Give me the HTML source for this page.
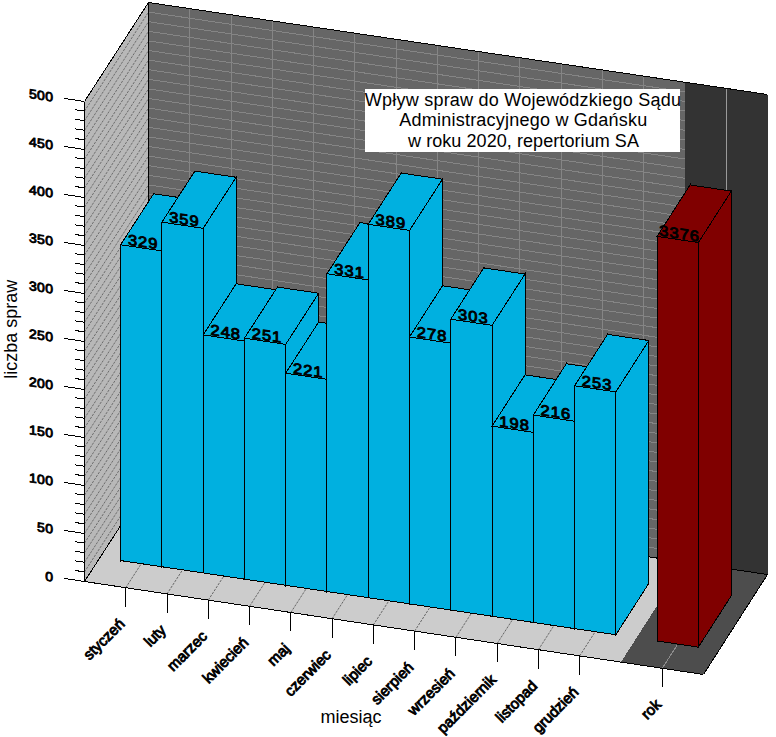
<!DOCTYPE html>
<html><head><meta charset="utf-8"><title>chart</title>
<style>html,body{margin:0;padding:0;background:#fff}body{width:776px;height:737px;position:relative;overflow:hidden;font-family:"Liberation Sans",sans-serif}svg{display:block}</style>
</head><body>
<svg width="776" height="737" viewBox="0 0 776 737" shape-rendering="crispEdges">
<rect width="100%" height="100%" fill="#fff"/>
<polygon points="84.50,581.50 84.50,101.50 148.50,2.50 148.50,482.50" fill="#b8b8b8" stroke="none" stroke-width="1" />
<polygon points="148.50,482.50 148.50,2.50 684.97,82.23 684.97,562.23" fill="#666666" stroke="none" stroke-width="1" />
<polygon points="684.97,562.23 684.97,82.23 767.50,94.50 767.50,574.50" fill="#333333" stroke="none" stroke-width="1" />
<polygon points="84.50,581.50 148.50,482.50 684.97,562.23 620.97,662.10" fill="#cccccc" stroke="none" stroke-width="1" />
<polygon points="620.97,662.10 684.97,562.23 767.50,574.50 703.50,674.50" fill="#4d4d4d" stroke="none" stroke-width="1" />
<line x1="84.50" y1="571.90" x2="148.50" y2="472.90" stroke="#6c6c6c" stroke-width="1" stroke-dasharray="2.3814 1.1907" shape-rendering="geometricPrecision"/>
<line x1="148.50" y1="472.90" x2="684.97" y2="552.63" stroke="#858585" stroke-width="1" />
<line x1="84.50" y1="562.30" x2="148.50" y2="463.30" stroke="#6c6c6c" stroke-width="1" stroke-dasharray="2.3814 1.1907" shape-rendering="geometricPrecision"/>
<line x1="148.50" y1="463.30" x2="684.97" y2="543.03" stroke="#858585" stroke-width="1" />
<line x1="84.50" y1="552.70" x2="148.50" y2="453.70" stroke="#6c6c6c" stroke-width="1" stroke-dasharray="2.3814 1.1907" shape-rendering="geometricPrecision"/>
<line x1="148.50" y1="453.70" x2="684.97" y2="533.43" stroke="#858585" stroke-width="1" />
<line x1="84.50" y1="543.10" x2="148.50" y2="444.10" stroke="#6c6c6c" stroke-width="1" stroke-dasharray="2.3814 1.1907" shape-rendering="geometricPrecision"/>
<line x1="148.50" y1="444.10" x2="684.97" y2="523.83" stroke="#858585" stroke-width="1" />
<line x1="84.50" y1="533.50" x2="148.50" y2="434.50" stroke="#6c6c6c" stroke-width="1" stroke-dasharray="2.3814 1.1907" shape-rendering="geometricPrecision"/>
<line x1="148.50" y1="434.50" x2="684.97" y2="514.23" stroke="#858585" stroke-width="1" />
<line x1="84.50" y1="523.90" x2="148.50" y2="424.90" stroke="#6c6c6c" stroke-width="1" stroke-dasharray="2.3814 1.1907" shape-rendering="geometricPrecision"/>
<line x1="148.50" y1="424.90" x2="684.97" y2="504.63" stroke="#858585" stroke-width="1" />
<line x1="84.50" y1="514.30" x2="148.50" y2="415.30" stroke="#6c6c6c" stroke-width="1" stroke-dasharray="2.3814 1.1907" shape-rendering="geometricPrecision"/>
<line x1="148.50" y1="415.30" x2="684.97" y2="495.03" stroke="#858585" stroke-width="1" />
<line x1="84.50" y1="504.70" x2="148.50" y2="405.70" stroke="#6c6c6c" stroke-width="1" stroke-dasharray="2.3814 1.1907" shape-rendering="geometricPrecision"/>
<line x1="148.50" y1="405.70" x2="684.97" y2="485.43" stroke="#858585" stroke-width="1" />
<line x1="84.50" y1="495.10" x2="148.50" y2="396.10" stroke="#6c6c6c" stroke-width="1" stroke-dasharray="2.3814 1.1907" shape-rendering="geometricPrecision"/>
<line x1="148.50" y1="396.10" x2="684.97" y2="475.83" stroke="#858585" stroke-width="1" />
<line x1="84.50" y1="485.50" x2="148.50" y2="386.50" stroke="#6c6c6c" stroke-width="1" stroke-dasharray="2.3814 1.1907" shape-rendering="geometricPrecision"/>
<line x1="148.50" y1="386.50" x2="684.97" y2="466.23" stroke="#858585" stroke-width="1" />
<line x1="84.50" y1="475.90" x2="148.50" y2="376.90" stroke="#6c6c6c" stroke-width="1" stroke-dasharray="2.3814 1.1907" shape-rendering="geometricPrecision"/>
<line x1="148.50" y1="376.90" x2="684.97" y2="456.63" stroke="#858585" stroke-width="1" />
<line x1="84.50" y1="466.30" x2="148.50" y2="367.30" stroke="#6c6c6c" stroke-width="1" stroke-dasharray="2.3814 1.1907" shape-rendering="geometricPrecision"/>
<line x1="148.50" y1="367.30" x2="684.97" y2="447.03" stroke="#858585" stroke-width="1" />
<line x1="84.50" y1="456.70" x2="148.50" y2="357.70" stroke="#6c6c6c" stroke-width="1" stroke-dasharray="2.3814 1.1907" shape-rendering="geometricPrecision"/>
<line x1="148.50" y1="357.70" x2="684.97" y2="437.43" stroke="#858585" stroke-width="1" />
<line x1="84.50" y1="447.10" x2="148.50" y2="348.10" stroke="#6c6c6c" stroke-width="1" stroke-dasharray="2.3814 1.1907" shape-rendering="geometricPrecision"/>
<line x1="148.50" y1="348.10" x2="684.97" y2="427.83" stroke="#858585" stroke-width="1" />
<line x1="84.50" y1="437.50" x2="148.50" y2="338.50" stroke="#6c6c6c" stroke-width="1" stroke-dasharray="2.3814 1.1907" shape-rendering="geometricPrecision"/>
<line x1="148.50" y1="338.50" x2="684.97" y2="418.23" stroke="#858585" stroke-width="1" />
<line x1="84.50" y1="427.90" x2="148.50" y2="328.90" stroke="#6c6c6c" stroke-width="1" stroke-dasharray="2.3814 1.1907" shape-rendering="geometricPrecision"/>
<line x1="148.50" y1="328.90" x2="684.97" y2="408.63" stroke="#858585" stroke-width="1" />
<line x1="84.50" y1="418.30" x2="148.50" y2="319.30" stroke="#6c6c6c" stroke-width="1" stroke-dasharray="2.3814 1.1907" shape-rendering="geometricPrecision"/>
<line x1="148.50" y1="319.30" x2="684.97" y2="399.03" stroke="#858585" stroke-width="1" />
<line x1="84.50" y1="408.70" x2="148.50" y2="309.70" stroke="#6c6c6c" stroke-width="1" stroke-dasharray="2.3814 1.1907" shape-rendering="geometricPrecision"/>
<line x1="148.50" y1="309.70" x2="684.97" y2="389.43" stroke="#858585" stroke-width="1" />
<line x1="84.50" y1="399.10" x2="148.50" y2="300.10" stroke="#6c6c6c" stroke-width="1" stroke-dasharray="2.3814 1.1907" shape-rendering="geometricPrecision"/>
<line x1="148.50" y1="300.10" x2="684.97" y2="379.83" stroke="#858585" stroke-width="1" />
<line x1="84.50" y1="389.50" x2="148.50" y2="290.50" stroke="#6c6c6c" stroke-width="1" stroke-dasharray="2.3814 1.1907" shape-rendering="geometricPrecision"/>
<line x1="148.50" y1="290.50" x2="684.97" y2="370.23" stroke="#858585" stroke-width="1" />
<line x1="84.50" y1="379.90" x2="148.50" y2="280.90" stroke="#6c6c6c" stroke-width="1" stroke-dasharray="2.3814 1.1907" shape-rendering="geometricPrecision"/>
<line x1="148.50" y1="280.90" x2="684.97" y2="360.63" stroke="#858585" stroke-width="1" />
<line x1="84.50" y1="370.30" x2="148.50" y2="271.30" stroke="#6c6c6c" stroke-width="1" stroke-dasharray="2.3814 1.1907" shape-rendering="geometricPrecision"/>
<line x1="148.50" y1="271.30" x2="684.97" y2="351.03" stroke="#858585" stroke-width="1" />
<line x1="84.50" y1="360.70" x2="148.50" y2="261.70" stroke="#6c6c6c" stroke-width="1" stroke-dasharray="2.3814 1.1907" shape-rendering="geometricPrecision"/>
<line x1="148.50" y1="261.70" x2="684.97" y2="341.43" stroke="#858585" stroke-width="1" />
<line x1="84.50" y1="351.10" x2="148.50" y2="252.10" stroke="#6c6c6c" stroke-width="1" stroke-dasharray="2.3814 1.1907" shape-rendering="geometricPrecision"/>
<line x1="148.50" y1="252.10" x2="684.97" y2="331.83" stroke="#858585" stroke-width="1" />
<line x1="84.50" y1="341.50" x2="148.50" y2="242.50" stroke="#6c6c6c" stroke-width="1" stroke-dasharray="2.3814 1.1907" shape-rendering="geometricPrecision"/>
<line x1="148.50" y1="242.50" x2="684.97" y2="322.23" stroke="#858585" stroke-width="1" />
<line x1="84.50" y1="331.90" x2="148.50" y2="232.90" stroke="#6c6c6c" stroke-width="1" stroke-dasharray="2.3814 1.1907" shape-rendering="geometricPrecision"/>
<line x1="148.50" y1="232.90" x2="684.97" y2="312.63" stroke="#858585" stroke-width="1" />
<line x1="84.50" y1="322.30" x2="148.50" y2="223.30" stroke="#6c6c6c" stroke-width="1" stroke-dasharray="2.3814 1.1907" shape-rendering="geometricPrecision"/>
<line x1="148.50" y1="223.30" x2="684.97" y2="303.03" stroke="#858585" stroke-width="1" />
<line x1="84.50" y1="312.70" x2="148.50" y2="213.70" stroke="#6c6c6c" stroke-width="1" stroke-dasharray="2.3814 1.1907" shape-rendering="geometricPrecision"/>
<line x1="148.50" y1="213.70" x2="684.97" y2="293.43" stroke="#858585" stroke-width="1" />
<line x1="84.50" y1="303.10" x2="148.50" y2="204.10" stroke="#6c6c6c" stroke-width="1" stroke-dasharray="2.3814 1.1907" shape-rendering="geometricPrecision"/>
<line x1="148.50" y1="204.10" x2="684.97" y2="283.83" stroke="#858585" stroke-width="1" />
<line x1="84.50" y1="293.50" x2="148.50" y2="194.50" stroke="#6c6c6c" stroke-width="1" stroke-dasharray="2.3814 1.1907" shape-rendering="geometricPrecision"/>
<line x1="148.50" y1="194.50" x2="684.97" y2="274.23" stroke="#858585" stroke-width="1" />
<line x1="84.50" y1="283.90" x2="148.50" y2="184.90" stroke="#6c6c6c" stroke-width="1" stroke-dasharray="2.3814 1.1907" shape-rendering="geometricPrecision"/>
<line x1="148.50" y1="184.90" x2="684.97" y2="264.63" stroke="#858585" stroke-width="1" />
<line x1="84.50" y1="274.30" x2="148.50" y2="175.30" stroke="#6c6c6c" stroke-width="1" stroke-dasharray="2.3814 1.1907" shape-rendering="geometricPrecision"/>
<line x1="148.50" y1="175.30" x2="684.97" y2="255.03" stroke="#858585" stroke-width="1" />
<line x1="84.50" y1="264.70" x2="148.50" y2="165.70" stroke="#6c6c6c" stroke-width="1" stroke-dasharray="2.3814 1.1907" shape-rendering="geometricPrecision"/>
<line x1="148.50" y1="165.70" x2="684.97" y2="245.43" stroke="#858585" stroke-width="1" />
<line x1="84.50" y1="255.10" x2="148.50" y2="156.10" stroke="#6c6c6c" stroke-width="1" stroke-dasharray="2.3814 1.1907" shape-rendering="geometricPrecision"/>
<line x1="148.50" y1="156.10" x2="684.97" y2="235.83" stroke="#858585" stroke-width="1" />
<line x1="84.50" y1="245.50" x2="148.50" y2="146.50" stroke="#6c6c6c" stroke-width="1" stroke-dasharray="2.3814 1.1907" shape-rendering="geometricPrecision"/>
<line x1="148.50" y1="146.50" x2="684.97" y2="226.23" stroke="#858585" stroke-width="1" />
<line x1="84.50" y1="235.90" x2="148.50" y2="136.90" stroke="#6c6c6c" stroke-width="1" stroke-dasharray="2.3814 1.1907" shape-rendering="geometricPrecision"/>
<line x1="148.50" y1="136.90" x2="684.97" y2="216.63" stroke="#858585" stroke-width="1" />
<line x1="84.50" y1="226.30" x2="148.50" y2="127.30" stroke="#6c6c6c" stroke-width="1" stroke-dasharray="2.3814 1.1907" shape-rendering="geometricPrecision"/>
<line x1="148.50" y1="127.30" x2="684.97" y2="207.03" stroke="#858585" stroke-width="1" />
<line x1="84.50" y1="216.70" x2="148.50" y2="117.70" stroke="#6c6c6c" stroke-width="1" stroke-dasharray="2.3814 1.1907" shape-rendering="geometricPrecision"/>
<line x1="148.50" y1="117.70" x2="684.97" y2="197.43" stroke="#858585" stroke-width="1" />
<line x1="84.50" y1="207.10" x2="148.50" y2="108.10" stroke="#6c6c6c" stroke-width="1" stroke-dasharray="2.3814 1.1907" shape-rendering="geometricPrecision"/>
<line x1="148.50" y1="108.10" x2="684.97" y2="187.83" stroke="#858585" stroke-width="1" />
<line x1="84.50" y1="197.50" x2="148.50" y2="98.50" stroke="#6c6c6c" stroke-width="1" stroke-dasharray="2.3814 1.1907" shape-rendering="geometricPrecision"/>
<line x1="148.50" y1="98.50" x2="684.97" y2="178.23" stroke="#858585" stroke-width="1" />
<line x1="84.50" y1="187.90" x2="148.50" y2="88.90" stroke="#6c6c6c" stroke-width="1" stroke-dasharray="2.3814 1.1907" shape-rendering="geometricPrecision"/>
<line x1="148.50" y1="88.90" x2="684.97" y2="168.63" stroke="#858585" stroke-width="1" />
<line x1="84.50" y1="178.30" x2="148.50" y2="79.30" stroke="#6c6c6c" stroke-width="1" stroke-dasharray="2.3814 1.1907" shape-rendering="geometricPrecision"/>
<line x1="148.50" y1="79.30" x2="684.97" y2="159.03" stroke="#858585" stroke-width="1" />
<line x1="84.50" y1="168.70" x2="148.50" y2="69.70" stroke="#6c6c6c" stroke-width="1" stroke-dasharray="2.3814 1.1907" shape-rendering="geometricPrecision"/>
<line x1="148.50" y1="69.70" x2="684.97" y2="149.43" stroke="#858585" stroke-width="1" />
<line x1="84.50" y1="159.10" x2="148.50" y2="60.10" stroke="#6c6c6c" stroke-width="1" stroke-dasharray="2.3814 1.1907" shape-rendering="geometricPrecision"/>
<line x1="148.50" y1="60.10" x2="684.97" y2="139.83" stroke="#858585" stroke-width="1" />
<line x1="84.50" y1="149.50" x2="148.50" y2="50.50" stroke="#6c6c6c" stroke-width="1" stroke-dasharray="2.3814 1.1907" shape-rendering="geometricPrecision"/>
<line x1="148.50" y1="50.50" x2="684.97" y2="130.23" stroke="#858585" stroke-width="1" />
<line x1="84.50" y1="139.90" x2="148.50" y2="40.90" stroke="#6c6c6c" stroke-width="1" stroke-dasharray="2.3814 1.1907" shape-rendering="geometricPrecision"/>
<line x1="148.50" y1="40.90" x2="684.97" y2="120.63" stroke="#858585" stroke-width="1" />
<line x1="84.50" y1="130.30" x2="148.50" y2="31.30" stroke="#6c6c6c" stroke-width="1" stroke-dasharray="2.3814 1.1907" shape-rendering="geometricPrecision"/>
<line x1="148.50" y1="31.30" x2="684.97" y2="111.03" stroke="#858585" stroke-width="1" />
<line x1="84.50" y1="120.70" x2="148.50" y2="21.70" stroke="#6c6c6c" stroke-width="1" stroke-dasharray="2.3814 1.1907" shape-rendering="geometricPrecision"/>
<line x1="148.50" y1="21.70" x2="684.97" y2="101.43" stroke="#858585" stroke-width="1" />
<line x1="84.50" y1="111.10" x2="148.50" y2="12.10" stroke="#6c6c6c" stroke-width="1" stroke-dasharray="2.3814 1.1907" shape-rendering="geometricPrecision"/>
<line x1="148.50" y1="12.10" x2="684.97" y2="91.83" stroke="#858585" stroke-width="1" />
<line x1="189.77" y1="488.63" x2="189.77" y2="8.63" stroke="#858585" stroke-width="1" />
<line x1="125.77" y1="587.70" x2="189.77" y2="488.63" stroke="#666" stroke-width="1" stroke-dasharray="2.3814 1.1907" shape-rendering="geometricPrecision"/>
<line x1="231.03" y1="494.77" x2="231.03" y2="14.77" stroke="#858585" stroke-width="1" />
<line x1="167.03" y1="593.90" x2="231.03" y2="494.77" stroke="#666" stroke-width="1" stroke-dasharray="2.3814 1.1907" shape-rendering="geometricPrecision"/>
<line x1="272.30" y1="500.90" x2="272.30" y2="20.90" stroke="#858585" stroke-width="1" />
<line x1="208.30" y1="600.10" x2="272.30" y2="500.90" stroke="#666" stroke-width="1" stroke-dasharray="2.3814 1.1907" shape-rendering="geometricPrecision"/>
<line x1="313.57" y1="507.03" x2="313.57" y2="27.03" stroke="#858585" stroke-width="1" />
<line x1="249.57" y1="606.30" x2="313.57" y2="507.03" stroke="#666" stroke-width="1" stroke-dasharray="2.3814 1.1907" shape-rendering="geometricPrecision"/>
<line x1="354.84" y1="513.17" x2="354.84" y2="33.17" stroke="#858585" stroke-width="1" />
<line x1="290.84" y1="612.50" x2="354.84" y2="513.17" stroke="#666" stroke-width="1" stroke-dasharray="2.3814 1.1907" shape-rendering="geometricPrecision"/>
<line x1="396.10" y1="519.30" x2="396.10" y2="39.30" stroke="#858585" stroke-width="1" />
<line x1="332.10" y1="618.70" x2="396.10" y2="519.30" stroke="#666" stroke-width="1" stroke-dasharray="2.3814 1.1907" shape-rendering="geometricPrecision"/>
<line x1="437.37" y1="525.43" x2="437.37" y2="45.43" stroke="#858585" stroke-width="1" />
<line x1="373.37" y1="624.90" x2="437.37" y2="525.43" stroke="#666" stroke-width="1" stroke-dasharray="2.3814 1.1907" shape-rendering="geometricPrecision"/>
<line x1="478.64" y1="531.57" x2="478.64" y2="51.57" stroke="#858585" stroke-width="1" />
<line x1="414.64" y1="631.10" x2="478.64" y2="531.57" stroke="#666" stroke-width="1" stroke-dasharray="2.3814 1.1907" shape-rendering="geometricPrecision"/>
<line x1="519.90" y1="537.70" x2="519.90" y2="57.70" stroke="#858585" stroke-width="1" />
<line x1="455.90" y1="637.30" x2="519.90" y2="537.70" stroke="#666" stroke-width="1" stroke-dasharray="2.3814 1.1907" shape-rendering="geometricPrecision"/>
<line x1="561.17" y1="543.83" x2="561.17" y2="63.83" stroke="#858585" stroke-width="1" />
<line x1="497.17" y1="643.50" x2="561.17" y2="543.83" stroke="#666" stroke-width="1" stroke-dasharray="2.3814 1.1907" shape-rendering="geometricPrecision"/>
<line x1="602.44" y1="549.97" x2="602.44" y2="69.97" stroke="#858585" stroke-width="1" />
<line x1="538.44" y1="649.70" x2="602.44" y2="549.97" stroke="#666" stroke-width="1" stroke-dasharray="2.3814 1.1907" shape-rendering="geometricPrecision"/>
<line x1="643.70" y1="556.10" x2="643.70" y2="76.10" stroke="#858585" stroke-width="1" />
<line x1="579.70" y1="655.90" x2="643.70" y2="556.10" stroke="#666" stroke-width="1" stroke-dasharray="2.3814 1.1907" shape-rendering="geometricPrecision"/>
<line x1="726.24" y1="568.37" x2="726.24" y2="88.37" stroke="#9a9a9a" stroke-width="1" />
<line x1="662.24" y1="668.30" x2="726.24" y2="568.37" stroke="#8c8c8c" stroke-width="1" />
<line x1="84.50" y1="581.50" x2="84.50" y2="101.50" stroke="#000" stroke-width="1" />
<line x1="84.50" y1="101.50" x2="148.50" y2="2.50" stroke="#000" stroke-width="1" />
<line x1="148.50" y1="482.50" x2="148.50" y2="2.50" stroke="#000" stroke-width="1" />
<line x1="148.50" y1="2.50" x2="767.50" y2="94.50" stroke="#000" stroke-width="1" />
<line x1="84.50" y1="581.50" x2="148.50" y2="482.50" stroke="#000" stroke-width="1" />
<line x1="84.50" y1="581.50" x2="703.50" y2="674.50" stroke="#000" stroke-width="1" />
<line x1="703.50" y1="674.50" x2="767.50" y2="574.50" stroke="#000" stroke-width="1" />
<line x1="148.50" y1="482.50" x2="767.50" y2="574.50" stroke="#000" stroke-width="1" />
<line x1="84.50" y1="581.50" x2="64.28" y2="578.46" stroke="#000" stroke-width="1" />
<line x1="84.50" y1="571.90" x2="74.93" y2="570.46" stroke="#000" stroke-width="1" />
<line x1="84.50" y1="562.30" x2="74.93" y2="560.86" stroke="#000" stroke-width="1" />
<line x1="84.50" y1="552.70" x2="74.93" y2="551.26" stroke="#000" stroke-width="1" />
<line x1="84.50" y1="543.10" x2="74.93" y2="541.66" stroke="#000" stroke-width="1" />
<line x1="84.50" y1="533.50" x2="64.28" y2="530.46" stroke="#000" stroke-width="1" />
<line x1="84.50" y1="523.90" x2="74.93" y2="522.46" stroke="#000" stroke-width="1" />
<line x1="84.50" y1="514.30" x2="74.93" y2="512.86" stroke="#000" stroke-width="1" />
<line x1="84.50" y1="504.70" x2="74.93" y2="503.26" stroke="#000" stroke-width="1" />
<line x1="84.50" y1="495.10" x2="74.93" y2="493.66" stroke="#000" stroke-width="1" />
<line x1="84.50" y1="485.50" x2="64.28" y2="482.46" stroke="#000" stroke-width="1" />
<line x1="84.50" y1="475.90" x2="74.93" y2="474.46" stroke="#000" stroke-width="1" />
<line x1="84.50" y1="466.30" x2="74.93" y2="464.86" stroke="#000" stroke-width="1" />
<line x1="84.50" y1="456.70" x2="74.93" y2="455.26" stroke="#000" stroke-width="1" />
<line x1="84.50" y1="447.10" x2="74.93" y2="445.66" stroke="#000" stroke-width="1" />
<line x1="84.50" y1="437.50" x2="64.28" y2="434.46" stroke="#000" stroke-width="1" />
<line x1="84.50" y1="427.90" x2="74.93" y2="426.46" stroke="#000" stroke-width="1" />
<line x1="84.50" y1="418.30" x2="74.93" y2="416.86" stroke="#000" stroke-width="1" />
<line x1="84.50" y1="408.70" x2="74.93" y2="407.26" stroke="#000" stroke-width="1" />
<line x1="84.50" y1="399.10" x2="74.93" y2="397.66" stroke="#000" stroke-width="1" />
<line x1="84.50" y1="389.50" x2="64.28" y2="386.46" stroke="#000" stroke-width="1" />
<line x1="84.50" y1="379.90" x2="74.93" y2="378.46" stroke="#000" stroke-width="1" />
<line x1="84.50" y1="370.30" x2="74.93" y2="368.86" stroke="#000" stroke-width="1" />
<line x1="84.50" y1="360.70" x2="74.93" y2="359.26" stroke="#000" stroke-width="1" />
<line x1="84.50" y1="351.10" x2="74.93" y2="349.66" stroke="#000" stroke-width="1" />
<line x1="84.50" y1="341.50" x2="64.28" y2="338.46" stroke="#000" stroke-width="1" />
<line x1="84.50" y1="331.90" x2="74.93" y2="330.46" stroke="#000" stroke-width="1" />
<line x1="84.50" y1="322.30" x2="74.93" y2="320.86" stroke="#000" stroke-width="1" />
<line x1="84.50" y1="312.70" x2="74.93" y2="311.26" stroke="#000" stroke-width="1" />
<line x1="84.50" y1="303.10" x2="74.93" y2="301.66" stroke="#000" stroke-width="1" />
<line x1="84.50" y1="293.50" x2="64.28" y2="290.46" stroke="#000" stroke-width="1" />
<line x1="84.50" y1="283.90" x2="74.93" y2="282.46" stroke="#000" stroke-width="1" />
<line x1="84.50" y1="274.30" x2="74.93" y2="272.86" stroke="#000" stroke-width="1" />
<line x1="84.50" y1="264.70" x2="74.93" y2="263.26" stroke="#000" stroke-width="1" />
<line x1="84.50" y1="255.10" x2="74.93" y2="253.66" stroke="#000" stroke-width="1" />
<line x1="84.50" y1="245.50" x2="64.28" y2="242.46" stroke="#000" stroke-width="1" />
<line x1="84.50" y1="235.90" x2="74.93" y2="234.46" stroke="#000" stroke-width="1" />
<line x1="84.50" y1="226.30" x2="74.93" y2="224.86" stroke="#000" stroke-width="1" />
<line x1="84.50" y1="216.70" x2="74.93" y2="215.26" stroke="#000" stroke-width="1" />
<line x1="84.50" y1="207.10" x2="74.93" y2="205.66" stroke="#000" stroke-width="1" />
<line x1="84.50" y1="197.50" x2="64.28" y2="194.46" stroke="#000" stroke-width="1" />
<line x1="84.50" y1="187.90" x2="74.93" y2="186.46" stroke="#000" stroke-width="1" />
<line x1="84.50" y1="178.30" x2="74.93" y2="176.86" stroke="#000" stroke-width="1" />
<line x1="84.50" y1="168.70" x2="74.93" y2="167.26" stroke="#000" stroke-width="1" />
<line x1="84.50" y1="159.10" x2="74.93" y2="157.66" stroke="#000" stroke-width="1" />
<line x1="84.50" y1="149.50" x2="64.28" y2="146.46" stroke="#000" stroke-width="1" />
<line x1="84.50" y1="139.90" x2="74.93" y2="138.46" stroke="#000" stroke-width="1" />
<line x1="84.50" y1="130.30" x2="74.93" y2="128.86" stroke="#000" stroke-width="1" />
<line x1="84.50" y1="120.70" x2="74.93" y2="119.26" stroke="#000" stroke-width="1" />
<line x1="84.50" y1="111.10" x2="74.93" y2="109.66" stroke="#000" stroke-width="1" />
<line x1="84.50" y1="101.50" x2="64.28" y2="98.46" stroke="#000" stroke-width="1" />
<line x1="125.77" y1="587.70" x2="125.77" y2="606.60" stroke="#000" stroke-width="1" />
<line x1="167.03" y1="593.90" x2="167.03" y2="612.80" stroke="#000" stroke-width="1" />
<line x1="208.30" y1="600.10" x2="208.30" y2="619.00" stroke="#000" stroke-width="1" />
<line x1="249.57" y1="606.30" x2="249.57" y2="625.20" stroke="#000" stroke-width="1" />
<line x1="290.84" y1="612.50" x2="290.84" y2="631.40" stroke="#000" stroke-width="1" />
<line x1="332.10" y1="618.70" x2="332.10" y2="637.60" stroke="#000" stroke-width="1" />
<line x1="373.37" y1="624.90" x2="373.37" y2="643.80" stroke="#000" stroke-width="1" />
<line x1="414.64" y1="631.10" x2="414.64" y2="650.00" stroke="#000" stroke-width="1" />
<line x1="455.90" y1="637.30" x2="455.90" y2="656.20" stroke="#000" stroke-width="1" />
<line x1="497.17" y1="643.50" x2="497.17" y2="662.40" stroke="#000" stroke-width="1" />
<line x1="538.44" y1="649.70" x2="538.44" y2="668.60" stroke="#000" stroke-width="1" />
<line x1="579.70" y1="655.90" x2="579.70" y2="674.80" stroke="#000" stroke-width="1" />
<line x1="662.24" y1="668.30" x2="662.24" y2="687.20" stroke="#000" stroke-width="1" />
<polygon points="120.65,560.58 120.65,244.74 153.61,193.74 153.61,509.58" fill="#00b0e0" stroke="#000" stroke-width="1" /><polygon points="161.92,566.77 161.92,250.93 194.88,199.89 194.88,515.73" fill="#00b0e0" stroke="#000" stroke-width="1" /><polygon points="120.65,244.74 161.92,250.93 194.88,199.89 153.61,193.74" fill="#00b0e0" stroke="#000" stroke-width="1" /><polygon points="120.65,560.58 120.65,244.74 161.92,250.93 161.92,566.77" fill="#00b0e0" stroke="#000" stroke-width="1" />
<polygon points="161.92,566.77 161.92,222.13 194.88,171.09 194.88,515.73" fill="#00b0e0" stroke="#000" stroke-width="1" /><polygon points="203.19,572.95 203.19,228.31 236.15,177.24 236.15,521.88" fill="#00b0e0" stroke="#000" stroke-width="1" /><polygon points="161.92,222.13 203.19,228.31 236.15,177.24 194.88,171.09" fill="#00b0e0" stroke="#000" stroke-width="1" /><polygon points="161.92,566.77 161.92,222.13 203.19,228.31 203.19,572.95" fill="#00b0e0" stroke="#000" stroke-width="1" />
<polygon points="203.19,572.95 203.19,334.87 236.15,283.80 236.15,521.88" fill="#00b0e0" stroke="#000" stroke-width="1" /><polygon points="244.45,579.14 244.45,341.06 277.41,289.95 277.41,528.03" fill="#00b0e0" stroke="#000" stroke-width="1" /><polygon points="203.19,334.87 244.45,341.06 277.41,289.95 236.15,283.80" fill="#00b0e0" stroke="#000" stroke-width="1" /><polygon points="203.19,572.95 203.19,334.87 244.45,341.06 244.45,579.14" fill="#00b0e0" stroke="#000" stroke-width="1" />
<polygon points="244.45,579.14 244.45,338.18 277.41,287.07 277.41,528.03" fill="#00b0e0" stroke="#000" stroke-width="1" /><polygon points="285.72,585.32 285.72,344.36 318.68,293.22 318.68,534.18" fill="#00b0e0" stroke="#000" stroke-width="1" /><polygon points="244.45,338.18 285.72,344.36 318.68,293.22 277.41,287.07" fill="#00b0e0" stroke="#000" stroke-width="1" /><polygon points="244.45,579.14 244.45,338.18 285.72,344.36 285.72,585.32" fill="#00b0e0" stroke="#000" stroke-width="1" />
<polygon points="285.72,585.32 285.72,373.16 318.68,322.02 318.68,534.18" fill="#00b0e0" stroke="#000" stroke-width="1" /><polygon points="326.99,591.50 326.99,379.34 359.95,328.17 359.95,540.33" fill="#00b0e0" stroke="#000" stroke-width="1" /><polygon points="285.72,373.16 326.99,379.34 359.95,328.17 318.68,322.02" fill="#00b0e0" stroke="#000" stroke-width="1" /><polygon points="285.72,585.32 285.72,373.16 326.99,379.34 326.99,591.50" fill="#00b0e0" stroke="#000" stroke-width="1" />
<polygon points="326.99,591.50 326.99,273.74 359.95,222.57 359.95,540.33" fill="#00b0e0" stroke="#000" stroke-width="1" /><polygon points="368.26,597.69 368.26,279.93 401.22,228.72 401.22,546.48" fill="#00b0e0" stroke="#000" stroke-width="1" /><polygon points="326.99,273.74 368.26,279.93 401.22,228.72 359.95,222.57" fill="#00b0e0" stroke="#000" stroke-width="1" /><polygon points="326.99,591.50 326.99,273.74 368.26,279.93 368.26,597.69" fill="#00b0e0" stroke="#000" stroke-width="1" />
<polygon points="368.26,597.69 368.26,224.25 401.22,173.04 401.22,546.48" fill="#00b0e0" stroke="#000" stroke-width="1" /><polygon points="409.52,603.87 409.52,230.43 442.48,179.19 442.48,552.63" fill="#00b0e0" stroke="#000" stroke-width="1" /><polygon points="368.26,224.25 409.52,230.43 442.48,179.19 401.22,173.04" fill="#00b0e0" stroke="#000" stroke-width="1" /><polygon points="368.26,597.69 368.26,224.25 409.52,230.43 409.52,603.87" fill="#00b0e0" stroke="#000" stroke-width="1" />
<polygon points="409.52,603.87 409.52,336.99 442.48,285.75 442.48,552.63" fill="#00b0e0" stroke="#000" stroke-width="1" /><polygon points="450.79,610.06 450.79,343.18 483.75,291.90 483.75,558.78" fill="#00b0e0" stroke="#000" stroke-width="1" /><polygon points="409.52,336.99 450.79,343.18 483.75,291.90 442.48,285.75" fill="#00b0e0" stroke="#000" stroke-width="1" /><polygon points="409.52,603.87 409.52,336.99 450.79,343.18 450.79,610.06" fill="#00b0e0" stroke="#000" stroke-width="1" />
<polygon points="450.79,610.06 450.79,319.18 483.75,267.90 483.75,558.78" fill="#00b0e0" stroke="#000" stroke-width="1" /><polygon points="492.06,616.24 492.06,325.36 525.02,274.05 525.02,564.93" fill="#00b0e0" stroke="#000" stroke-width="1" /><polygon points="450.79,319.18 492.06,325.36 525.02,274.05 483.75,267.90" fill="#00b0e0" stroke="#000" stroke-width="1" /><polygon points="450.79,610.06 450.79,319.18 492.06,325.36 492.06,616.24" fill="#00b0e0" stroke="#000" stroke-width="1" />
<polygon points="492.06,616.24 492.06,426.16 525.02,374.85 525.02,564.93" fill="#00b0e0" stroke="#000" stroke-width="1" /><polygon points="533.32,622.42 533.32,432.34 566.28,381.00 566.28,571.08" fill="#00b0e0" stroke="#000" stroke-width="1" /><polygon points="492.06,426.16 533.32,432.34 566.28,381.00 525.02,374.85" fill="#00b0e0" stroke="#000" stroke-width="1" /><polygon points="492.06,616.24 492.06,426.16 533.32,432.34 533.32,622.42" fill="#00b0e0" stroke="#000" stroke-width="1" />
<polygon points="533.32,622.42 533.32,415.06 566.28,363.72 566.28,571.08" fill="#00b0e0" stroke="#000" stroke-width="1" /><polygon points="574.59,628.61 574.59,421.25 607.55,369.87 607.55,577.23" fill="#00b0e0" stroke="#000" stroke-width="1" /><polygon points="533.32,415.06 574.59,421.25 607.55,369.87 566.28,363.72" fill="#00b0e0" stroke="#000" stroke-width="1" /><polygon points="533.32,622.42 533.32,415.06 574.59,421.25 574.59,628.61" fill="#00b0e0" stroke="#000" stroke-width="1" />
<polygon points="574.59,628.61 574.59,385.73 607.55,334.35 607.55,577.23" fill="#00b0e0" stroke="#000" stroke-width="1" /><polygon points="615.86,634.79 615.86,391.91 648.82,340.50 648.82,583.38" fill="#00b0e0" stroke="#000" stroke-width="1" /><polygon points="574.59,385.73 615.86,391.91 648.82,340.50 607.55,334.35" fill="#00b0e0" stroke="#000" stroke-width="1" /><polygon points="574.59,628.61 574.59,385.73 615.86,391.91 615.86,634.79" fill="#00b0e0" stroke="#000" stroke-width="1" />
<polygon points="657.12,640.97 657.12,236.37 690.08,184.93 690.08,589.53" fill="#800000" stroke="#000" stroke-width="1" /><polygon points="698.39,647.16 698.39,242.56 731.35,191.08 731.35,595.68" fill="#800000" stroke="#000" stroke-width="1" /><polygon points="657.12,236.37 698.39,242.56 731.35,191.08 690.08,184.93" fill="#800000" stroke="#000" stroke-width="1" /><polygon points="657.12,640.97 657.12,236.37 698.39,242.56 698.39,647.16" fill="#800000" stroke="#000" stroke-width="1" />
</svg>
<svg width="776" height="737" viewBox="0 0 776 737" style="position:absolute;left:0;top:0">
<text transform="matrix(1.1000 0.1653 0 1 142.69 248.05)" x="0.47" y="-1.1" text-anchor="middle" font-size="15" letter-spacing="0.93" font-family="Liberation Sans, sans-serif" stroke="#000" stroke-width="0.9">329</text>
<text transform="matrix(1.1000 0.1653 0 1 183.95 225.43)" x="0.47" y="-1.1" text-anchor="middle" font-size="15" letter-spacing="0.93" font-family="Liberation Sans, sans-serif" stroke="#000" stroke-width="0.9">359</text>
<text transform="matrix(1.1000 0.1653 0 1 225.22 338.17)" x="0.47" y="-1.1" text-anchor="middle" font-size="15" letter-spacing="0.93" font-family="Liberation Sans, sans-serif" stroke="#000" stroke-width="0.9">248</text>
<text transform="matrix(1.1000 0.1653 0 1 266.49 341.48)" x="0.47" y="-1.1" text-anchor="middle" font-size="15" letter-spacing="0.93" font-family="Liberation Sans, sans-serif" stroke="#000" stroke-width="0.9">251</text>
<text transform="matrix(1.1000 0.1653 0 1 307.75 376.46)" x="0.47" y="-1.1" text-anchor="middle" font-size="15" letter-spacing="0.93" font-family="Liberation Sans, sans-serif" stroke="#000" stroke-width="0.9">221</text>
<text transform="matrix(1.1000 0.1653 0 1 349.02 277.05)" x="0.47" y="-1.1" text-anchor="middle" font-size="15" letter-spacing="0.93" font-family="Liberation Sans, sans-serif" stroke="#000" stroke-width="0.9">331</text>
<text transform="matrix(1.1000 0.1653 0 1 390.29 227.55)" x="0.47" y="-1.1" text-anchor="middle" font-size="15" letter-spacing="0.93" font-family="Liberation Sans, sans-serif" stroke="#000" stroke-width="0.9">389</text>
<text transform="matrix(1.1000 0.1653 0 1 431.56 340.29)" x="0.47" y="-1.1" text-anchor="middle" font-size="15" letter-spacing="0.93" font-family="Liberation Sans, sans-serif" stroke="#000" stroke-width="0.9">278</text>
<text transform="matrix(1.1000 0.1653 0 1 472.82 322.48)" x="0.47" y="-1.1" text-anchor="middle" font-size="15" letter-spacing="0.93" font-family="Liberation Sans, sans-serif" stroke="#000" stroke-width="0.9">303</text>
<text transform="matrix(1.1000 0.1653 0 1 514.09 429.46)" x="0.47" y="-1.1" text-anchor="middle" font-size="15" letter-spacing="0.93" font-family="Liberation Sans, sans-serif" stroke="#000" stroke-width="0.9">198</text>
<text transform="matrix(1.1000 0.1653 0 1 555.36 418.37)" x="0.47" y="-1.1" text-anchor="middle" font-size="15" letter-spacing="0.93" font-family="Liberation Sans, sans-serif" stroke="#000" stroke-width="0.9">216</text>
<text transform="matrix(1.1000 0.1653 0 1 596.62 389.03)" x="0.47" y="-1.1" text-anchor="middle" font-size="15" letter-spacing="0.93" font-family="Liberation Sans, sans-serif" stroke="#000" stroke-width="0.9">253</text>
<text transform="matrix(1.1000 0.1653 0 1 679.16 239.68)" x="0.47" y="-1.1" text-anchor="middle" font-size="15" letter-spacing="0.93" font-family="Liberation Sans, sans-serif" stroke="#000" stroke-width="0.9">3376</text>
<text transform="matrix(1 0.1502 0 0.92 63.87 578.40)" x="-10.52" y="5.3" text-anchor="end" font-size="14" letter-spacing="0.35" font-family="Liberation Sans, sans-serif" stroke="#000" stroke-width="0.9">0</text>
<text transform="matrix(1 0.1502 0 0.92 63.87 530.40)" x="-10.52" y="5.3" text-anchor="end" font-size="14" letter-spacing="0.35" font-family="Liberation Sans, sans-serif" stroke="#000" stroke-width="0.9">50</text>
<text transform="matrix(1 0.1502 0 0.92 63.87 482.40)" x="-10.52" y="5.3" text-anchor="end" font-size="14" letter-spacing="0.35" font-family="Liberation Sans, sans-serif" stroke="#000" stroke-width="0.9">100</text>
<text transform="matrix(1 0.1502 0 0.92 63.87 434.40)" x="-10.52" y="5.3" text-anchor="end" font-size="14" letter-spacing="0.35" font-family="Liberation Sans, sans-serif" stroke="#000" stroke-width="0.9">150</text>
<text transform="matrix(1 0.1502 0 0.92 63.87 386.40)" x="-10.52" y="5.3" text-anchor="end" font-size="14" letter-spacing="0.35" font-family="Liberation Sans, sans-serif" stroke="#000" stroke-width="0.9">200</text>
<text transform="matrix(1 0.1502 0 0.92 63.87 338.40)" x="-10.52" y="5.3" text-anchor="end" font-size="14" letter-spacing="0.35" font-family="Liberation Sans, sans-serif" stroke="#000" stroke-width="0.9">250</text>
<text transform="matrix(1 0.1502 0 0.92 63.87 290.40)" x="-10.52" y="5.3" text-anchor="end" font-size="14" letter-spacing="0.35" font-family="Liberation Sans, sans-serif" stroke="#000" stroke-width="0.9">300</text>
<text transform="matrix(1 0.1502 0 0.92 63.87 242.40)" x="-10.52" y="5.3" text-anchor="end" font-size="14" letter-spacing="0.35" font-family="Liberation Sans, sans-serif" stroke="#000" stroke-width="0.9">350</text>
<text transform="matrix(1 0.1502 0 0.92 63.87 194.40)" x="-10.52" y="5.3" text-anchor="end" font-size="14" letter-spacing="0.35" font-family="Liberation Sans, sans-serif" stroke="#000" stroke-width="0.9">400</text>
<text transform="matrix(1 0.1502 0 0.92 63.87 146.40)" x="-10.52" y="5.3" text-anchor="end" font-size="14" letter-spacing="0.35" font-family="Liberation Sans, sans-serif" stroke="#000" stroke-width="0.9">450</text>
<text transform="matrix(1 0.1502 0 0.92 63.87 98.40)" x="-10.52" y="5.3" text-anchor="end" font-size="14" letter-spacing="0.35" font-family="Liberation Sans, sans-serif" stroke="#000" stroke-width="0.9">500</text>
<text transform="translate(125.57 624.90) rotate(-45)" x="0" y="0" text-anchor="end" font-size="15" font-family="Liberation Sans, sans-serif" stroke="#000" stroke-width="0.9">styczeń</text>
<text transform="translate(166.83 631.10) rotate(-45)" x="0" y="0" text-anchor="end" font-size="15" font-family="Liberation Sans, sans-serif" stroke="#000" stroke-width="0.9">luty</text>
<text transform="translate(208.10 637.30) rotate(-45)" x="0" y="0" text-anchor="end" font-size="15" font-family="Liberation Sans, sans-serif" stroke="#000" stroke-width="0.9">marzec</text>
<text transform="translate(249.37 643.50) rotate(-45)" x="0" y="0" text-anchor="end" font-size="15" font-family="Liberation Sans, sans-serif" stroke="#000" stroke-width="0.9">kwiecień</text>
<text transform="translate(290.64 649.70) rotate(-45)" x="0" y="0" text-anchor="end" font-size="15" font-family="Liberation Sans, sans-serif" stroke="#000" stroke-width="0.9">maj</text>
<text transform="translate(331.90 655.90) rotate(-45)" x="0" y="0" text-anchor="end" font-size="15" font-family="Liberation Sans, sans-serif" stroke="#000" stroke-width="0.9">czerwiec</text>
<text transform="translate(373.17 662.10) rotate(-45)" x="0" y="0" text-anchor="end" font-size="15" font-family="Liberation Sans, sans-serif" stroke="#000" stroke-width="0.9">lipiec</text>
<text transform="translate(414.44 668.30) rotate(-45)" x="0" y="0" text-anchor="end" font-size="15" font-family="Liberation Sans, sans-serif" stroke="#000" stroke-width="0.9">sierpień</text>
<text transform="translate(455.70 674.50) rotate(-45)" x="0" y="0" text-anchor="end" font-size="15" font-family="Liberation Sans, sans-serif" stroke="#000" stroke-width="0.9">wrzesień</text>
<text transform="translate(496.97 680.70) rotate(-45)" x="0" y="0" text-anchor="end" font-size="15" font-family="Liberation Sans, sans-serif" stroke="#000" stroke-width="0.9">październik</text>
<text transform="translate(538.24 686.90) rotate(-45)" x="0" y="0" text-anchor="end" font-size="15" font-family="Liberation Sans, sans-serif" stroke="#000" stroke-width="0.9">listopad</text>
<text transform="translate(579.50 693.10) rotate(-45)" x="0" y="0" text-anchor="end" font-size="15" font-family="Liberation Sans, sans-serif" stroke="#000" stroke-width="0.9">grudzień</text>
<text transform="translate(662.04 705.50) rotate(-45)" x="0" y="0" text-anchor="end" font-size="15" font-family="Liberation Sans, sans-serif" stroke="#000" stroke-width="0.9">rok</text>
<text x="351" y="722.6" text-anchor="middle" font-size="18" font-family="Liberation Sans, sans-serif">miesiąc</text>
<text transform="translate(16.9 329.2) rotate(-90)" text-anchor="middle" font-size="18" font-family="Liberation Sans, sans-serif">liczba spraw</text>
<rect x="365" y="89" width="315" height="63" fill="#fff" shape-rendering="crispEdges"/>
<text x="523.0" y="105.6" text-anchor="middle" font-size="18" letter-spacing="0.23" font-family="Liberation Sans, sans-serif">Wpływ spraw do Wojewódzkiego Sądu</text>
<text x="523.4" y="126.3" text-anchor="middle" font-size="18" letter-spacing="0.22" font-family="Liberation Sans, sans-serif">Administracyjnego w Gdańsku</text>
<text x="523.5" y="147.0" text-anchor="middle" font-size="18" letter-spacing="0.07" font-family="Liberation Sans, sans-serif">w roku 2020, repertorium SA</text>
</svg>
</body></html>
